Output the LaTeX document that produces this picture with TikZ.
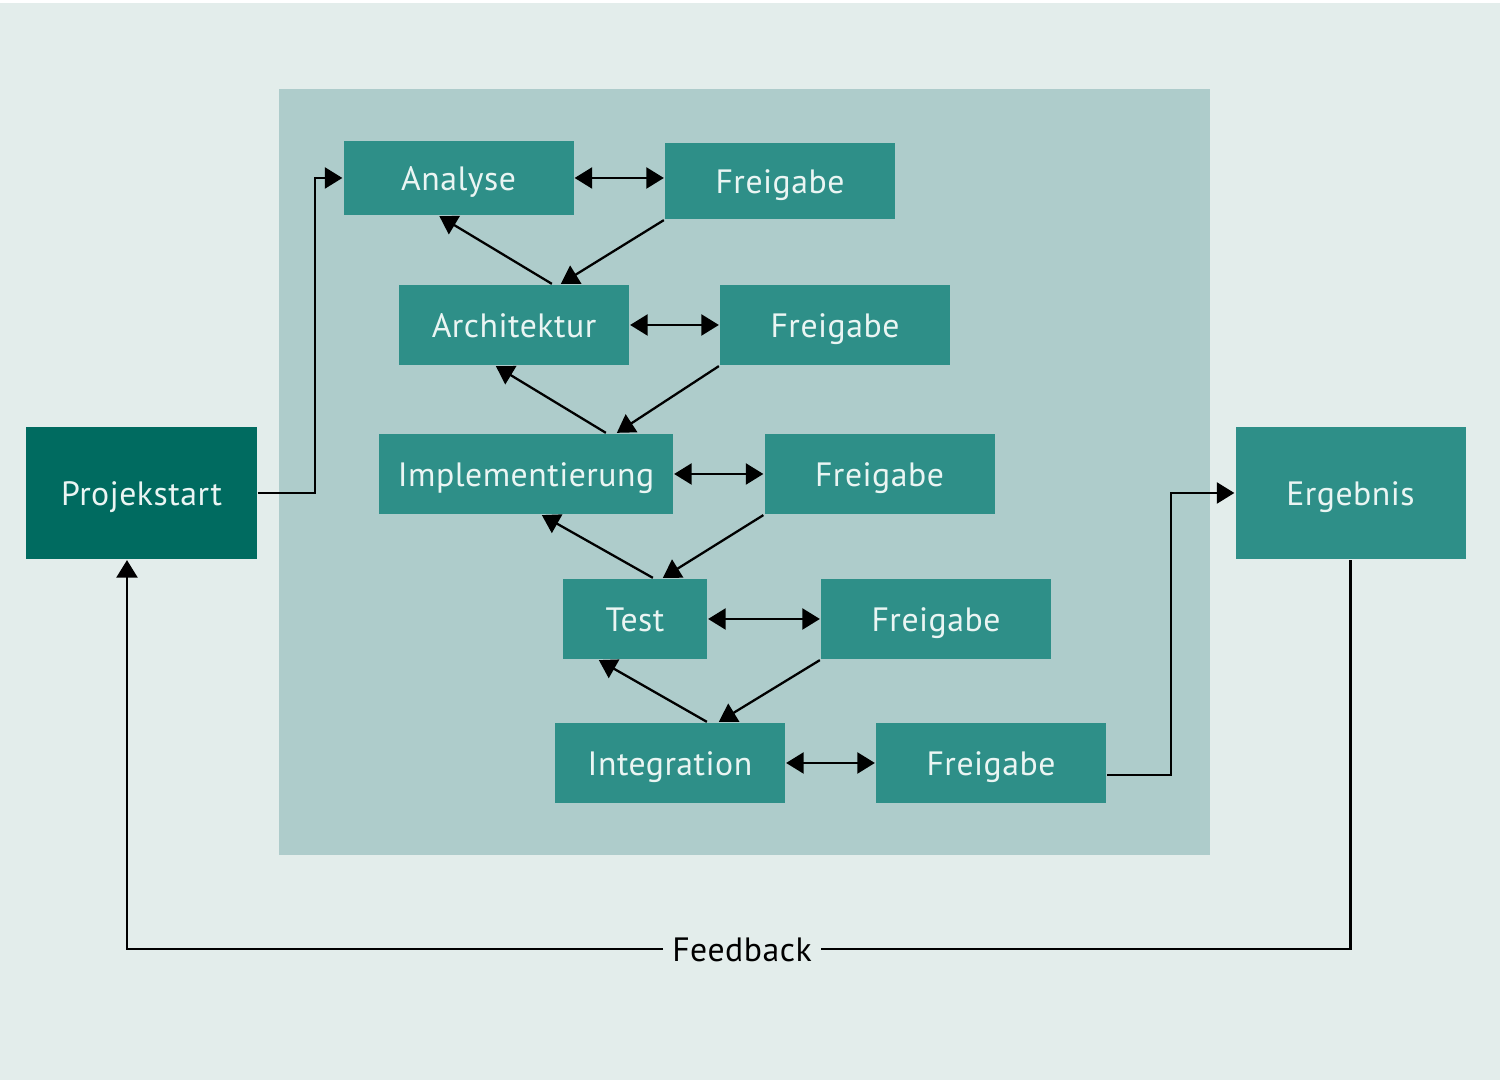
\documentclass[tikz,border=0pt]{standalone}
\usepackage{fontspec}
\setmainfont[LetterSpace=1.5]{PT Sans}
\usetikzlibrary{arrows.meta}
\definecolor{bgcol}{HTML}{E3EDEB}
\definecolor{panelcol}{HTML}{AECCCB}
\definecolor{boxcol}{HTML}{2E8F88}
\definecolor{startcol}{HTML}{006B60}
\definecolor{textcol}{HTML}{EAF5F3}
\begin{document}
\begin{tikzpicture}[>={Triangle[length=5pt,width=6pt]},
  every path/.style = {line width=0.65pt},
  box/.style = {shape=rectangle, fill=boxcol, text=textcol,
    minimum width=2.3cm, minimum height=0.8cm, inner sep=0pt,
    text height=0.7em, text depth=0pt,
    font=\fontsize{9.6}{12}\selectfont},
  endbox/.style = {box, minimum height=1.32cm}]
  % background and panel
  \fill[white] (0,0) rectangle (15,10.8);
  \fill[bgcol] (0,0) rectangle (15,10.77);
  \fill[panelcol] (2.79,2.25) rectangle (12.1,9.91);
  % phases
  \node[box, minimum height=0.74cm] (ana) at (4.585,9.02) {Analyse};
  \node[box, minimum height=0.76cm] (fr1) at (7.80,8.99) {Freigabe};
  \node[box] (arch) at (5.14,7.55) {Architektur};
  \node[box] (fr2) at (8.35,7.55) {Freigabe};
  \node[box, minimum width=2.94cm] (impl) at (5.26,6.06) {Implementierung};
  \node[box] (fr3) at (8.795,6.06) {Freigabe};
  \node[box, minimum width=1.44cm] (test) at (6.35,4.61) {Test};
  \node[box] (fr4) at (9.36,4.61) {Freigabe};
  \node[box] (integ) at (6.70,3.17) {Integration};
  \node[box] (fr5) at (9.91,3.17) {Freigabe};
  % start and result
  \node[endbox, fill=startcol] (start) at (1.415,5.87) {Projekstart};
  \node[endbox] (erg) at (13.505,5.87) {Ergebnis};
  \node[inner sep=0.08cm, text height=0.7em, text depth=0pt,
    font=\fontsize{9.6}{12}\selectfont] (fb) at (7.42,1.31) {Feedback};
  % connectors
  \draw[<->] (ana.east) -- (ana.east -| fr1.west);
  \draw[<->] (arch) -- (fr2);
  \draw[<->] (impl) -- (fr3);
  \draw[<->] (test) -- (fr4);
  \draw[<->] (integ) -- (fr5);
  \draw[->] ([xshift=1.54cm]arch.north west) -- ([xshift=0.97cm]ana.south west);
  \draw[->] (fr1.south west) -- ([xshift=1.63cm]arch.north west);
  \draw[->] ([xshift=2.28cm]impl.north west) -- ([xshift=0.98cm]arch.south west);
  \draw[->] (fr2.south west) -- ([xshift=2.39cm]impl.north west);
  \draw[->] ([xshift=0.91cm]test.north west) -- ([xshift=1.64cm]impl.south west);
  \draw[->] (fr3.south west) -- ([xshift=1.01cm]test.north west);
  \draw[->] ([xshift=1.53cm]integ.north west) -- ([xshift=0.37cm]test.south west);
  \draw[->] (fr4.south west) -- ([xshift=1.65cm]integ.north west);
  \draw[->] (start.east) -- ++(0.57,0) |- (ana.west);
  \draw[->] ([yshift=-0.12cm]fr5.east) -- ++(0.64,0) |- (erg.west);
  \draw (erg.south) |- (fb.east);
  \draw[->] (fb.west) -| ([xshift=-0.145cm]start.south);
\end{tikzpicture}
\end{document}
